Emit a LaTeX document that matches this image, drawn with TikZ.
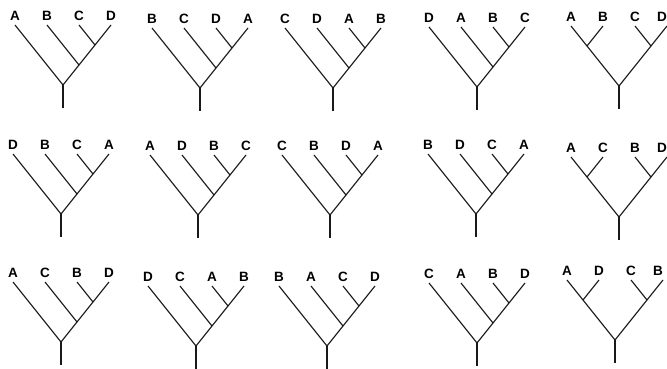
\documentclass[tikz,border=0pt]{standalone}
\usepackage{fontspec}
\setmainfont{Liberation Sans}
\tikzset{
  branch/.style={line width=1.15pt, line join=round, line cap=butt, black!90},
  stemline/.style={line width=1.7pt, black!90},
  lab/.style={anchor=south, inner sep=0pt, yshift=4.5pt, font=\fontsize{13.5}{15}\selectfont\bfseries}
}
\newcommand\cattree[7]{%
  \coordinate (#1r) at (#2,#3);
  \coordinate (#1s) at (#2,#3+23);
  \coordinate (#1l1) at (#2-48,#3-60);
  \coordinate (#1l2) at (#2-16,#3-60);
  \coordinate (#1l3) at (#2+16,#3-60);
  \coordinate (#1l4) at (#2+48,#3-60);
  \coordinate (#1n2) at (#2+16,#3-20);
  \coordinate (#1n3) at (#2+32,#3-40);
  \node[lab] (#1t1) at (#1l1) {#4};
  \node[lab] (#1t2) at (#1l2) {#5};
  \node[lab] (#1t3) at (#1l3) {#6};
  \node[lab] (#1t4) at (#1l4) {#7};
  \draw[branch] (#1l1) -- (#1r) -- (#1l4);
  \draw[branch] (#1l2) -- (#1n2);
  \draw[branch] (#1l3) -- (#1n3);
  \draw[stemline] (#1r) -- (#1s);
}
\newcommand\baltree[7]{%
  \coordinate (#1r) at (#2,#3);
  \coordinate (#1s) at (#2,#3+23);
  \coordinate (#1l1) at (#2-48,#3-60);
  \coordinate (#1l2) at (#2-16,#3-60);
  \coordinate (#1l3) at (#2+16,#3-60);
  \coordinate (#1l4) at (#2+48,#3-60);
  \coordinate (#1na) at (#2-32,#3-40);
  \coordinate (#1nb) at (#2+32,#3-40);
  \node[lab] (#1t1) at (#1l1) {#4};
  \node[lab] (#1t2) at (#1l2) {#5};
  \node[lab] (#1t3) at (#1l3) {#6};
  \node[lab, xshift=-5pt] (#1t4) at (#1l4) {#7};
  \draw[branch] (#1l1) -- (#1r) -- (#1l4);
  \draw[branch] (#1l2) -- (#1na);
  \draw[branch] (#1l3) -- (#1nb);
  \draw[stemline] (#1r) -- (#1s);
}
\begin{document}
\begin{tikzpicture}[x=1pt,y=-1pt]
\useasboundingbox (0,0) rectangle (667,369);
% row 1
\cattree{ta}{63}{85}{A}{B}{C}{D}
\cattree{tb}{200}{88}{B}{C}{D}{A}
\cattree{tc}{333}{88}{C}{D}{A}{B}
\cattree{td}{477}{87}{D}{A}{B}{C}
\baltree{te}{619}{86}{A}{B}{C}{D}
% row 2
\cattree{tf}{61}{214}{D}{B}{C}{A}
\cattree{tg}{198}{215}{A}{D}{B}{C}
\cattree{th}{330}{215}{C}{B}{D}{A}
\cattree{ti}{476}{214}{B}{D}{C}{A}
\baltree{tj}{619}{217}{A}{C}{B}{D}
% row 3
\cattree{tk}{61}{342}{A}{C}{B}{D}
\cattree{tl}{196}{346}{D}{C}{A}{B}
\cattree{tm}{327}{346}{B}{A}{C}{D}
\cattree{tn}{477}{343}{C}{A}{B}{D}
\baltree{to}{615}{340}{A}{D}{C}{B}
\end{tikzpicture}
\end{document}
